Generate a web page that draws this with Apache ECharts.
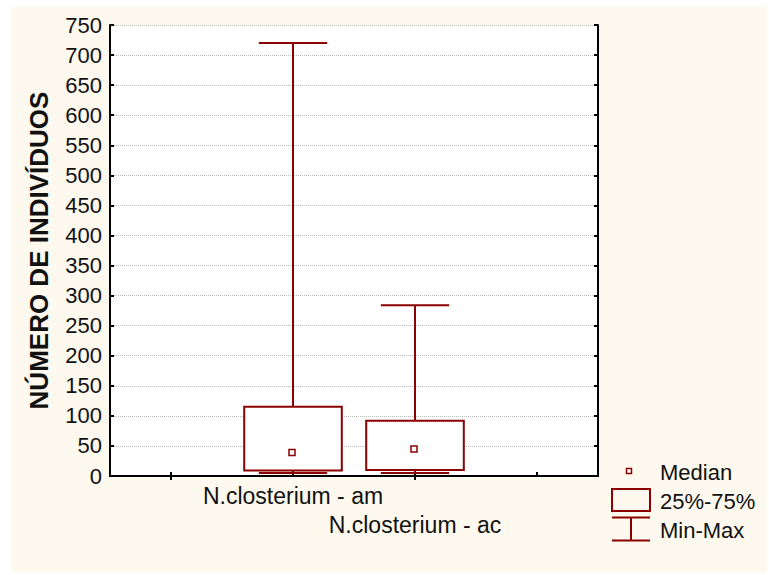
<!DOCTYPE html>
<html>
<head>
<meta charset="utf-8">
<script src="https://cdn.jsdelivr.net/npm/echarts@6/dist/echarts.min.js"></script>
<style>
html,body{margin:0;padding:0;background:#ffffff;}
#chart{width:769px;height:575px;}
</style>
</head>
<body>
<div id="chart"></div>
<script>
// ---- data ----
const categories = ['', 'N.closterium - am', 'N.closterium - ac', ''];
const boxCategoryIndex = [1, 2];
const minValues = [5, 5];
const q1Values = [9, 10];
const medianValues = [39, 45];
const q3Values = [115, 92];
const maxValues = [720, 284];
const yTicks = { min: 0, max: 750, interval: 50 };
const yAxisTitle = 'NÚMERO DE INDIVÍDUOS';
const legendLabels = ['Median', '25%-75%', 'Min-Max'];

const RED = '#8B0000';
const FONT = 'Arial, "Liberation Sans", sans-serif';

const boxData = boxCategoryIndex.map((c, i) =>
  [c, minValues[i], q1Values[i], medianValues[i], q3Values[i], maxValues[i]]);

function renderItem(params, api) {
  const xi = api.value(0);
  const band = api.size([1, 0])[0];
  const pMin = api.coord([xi, api.value(1)]);
  const pQ1 = api.coord([xi, api.value(2)]);
  const pMed = api.coord([xi, api.value(3)]);
  const pQ3 = api.coord([xi, api.value(4)]);
  const pMax = api.coord([xi, api.value(5)]);
  const cx = pMed[0];
  const bw = band * 0.8, cw = band * 0.56;
  const ls = { stroke: RED, lineWidth: 2, fill: null };
  return {
    type: 'group',
    children: [
      { type: 'line', shape: { x1: cx, y1: pQ3[1], x2: cx, y2: pMax[1] }, style: ls },
      { type: 'line', shape: { x1: cx - cw / 2, y1: pMax[1], x2: cx + cw / 2, y2: pMax[1] }, style: ls },
      { type: 'line', shape: { x1: cx, y1: pQ1[1], x2: cx, y2: pMin[1] }, style: ls },
      { type: 'line', shape: { x1: cx - cw / 2, y1: pMin[1], x2: cx + cw / 2, y2: pMin[1] }, style: ls },
      { type: 'rect', shape: { x: cx - bw / 2, y: pQ3[1], width: bw, height: pQ1[1] - pQ3[1] },
        style: { stroke: RED, lineWidth: 2, fill: '#ffffff' } },
      { type: 'rect', shape: { x: cx - 4, y: pMed[1] - 3, width: 6, height: 6 },
        style: { stroke: RED, lineWidth: 1.5, fill: '#ffffff' } }
    ]
  };
}

const chart = echarts.init(document.getElementById('chart'), null, { renderer: 'svg' });

const axisLineStyle = { show: true, lineStyle: { color: '#000', width: 2 } };

const option = {
  animation: false,
  backgroundColor: 'transparent',
  textStyle: { fontFamily: FONT },
  grid: { left: 110, right: 171, top: 25, bottom: 99, show: true, backgroundColor: '#ffffff', borderWidth: 0 },
  xAxis: [
    {
      type: 'category', data: categories, position: 'bottom', boundaryGap: true,
      axisLine: axisLineStyle,
      axisTick: { show: true, inside: true, alignWithLabel: true, length: 4, lineStyle: { color: '#000', width: 2 } },
      axisLabel: {
        interval: 0, color: '#111', fontSize: 23, fontFamily: FONT, margin: 6, lineHeight: 28.5,
        formatter: (v, idx) => idx === 2 ? '\n' + v : v
      },
      splitLine: { show: false }
    },
    {
      type: 'category', data: categories, position: 'top', boundaryGap: true,
      axisLine: axisLineStyle,
      axisTick: { show: true, inside: true, alignWithLabel: true, length: 4, lineStyle: { color: '#000', width: 2 } },
      axisLabel: { show: false },
      splitLine: { show: false }
    }
  ],
  yAxis: [
    {
      type: 'value', min: yTicks.min, max: yTicks.max, interval: yTicks.interval, position: 'left',
      name: yAxisTitle, nameLocation: 'middle', nameGap: 58, nameRotate: 90,
      nameTextStyle: { fontSize: 26, fontWeight: 'bold', color: '#111', fontFamily: FONT },
      axisLine: axisLineStyle,
      axisTick: { show: true, inside: true, length: 4, lineStyle: { color: '#000', width: 2 } },
      axisLabel: { color: '#111', fontSize: 22, fontFamily: FONT, margin: 8 },
      splitLine: { show: true, lineStyle: { color: '#bdbdbd', width: 1, type: 'dotted' } }
    },
    {
      type: 'value', min: yTicks.min, max: yTicks.max, interval: yTicks.interval, position: 'right',
      axisLine: axisLineStyle,
      axisTick: { show: true, inside: true, length: 4, lineStyle: { color: '#000', width: 2 } },
      axisLabel: { show: false },
      splitLine: { show: false }
    }
  ],
  series: [
    {
      type: 'custom', xAxisIndex: 0, yAxisIndex: 0,
      renderItem: renderItem,
      encode: { x: 0, y: [1, 2, 3, 4, 5] },
      data: boxData,
      z: 5
    }
  ],
  graphic: [
    { type: 'rect', z: -100, silent: true, shape: { x: 11, y: 7, width: 756, height: 565 }, style: { fill: '#FEF9EE' } },
    // legend
    { type: 'rect', z: 10, shape: { x: 626.5, y: 468.5, width: 5, height: 5 }, style: { stroke: RED, lineWidth: 1.5, fill: '#ffffff' } },
    { type: 'text', z: 10, style: { x: 660, y: 472, text: legendLabels[0], font: '22px ' + FONT, fill: '#111', verticalAlign: 'middle' } },
    { type: 'rect', z: 10, shape: { x: 612, y: 489, width: 38, height: 22 }, style: { stroke: RED, lineWidth: 2, fill: 'transparent' } },
    { type: 'text', z: 10, style: { x: 660, y: 501, text: legendLabels[1], font: '22px ' + FONT, fill: '#111', verticalAlign: 'middle' } },
    { type: 'line', z: 10, shape: { x1: 612, y1: 517.5, x2: 650, y2: 517.5 }, style: { stroke: RED, lineWidth: 2 } },
    { type: 'line', z: 10, shape: { x1: 631, y1: 517.5, x2: 631, y2: 540.5 }, style: { stroke: RED, lineWidth: 2 } },
    { type: 'line', z: 10, shape: { x1: 612, y1: 540.5, x2: 650, y2: 540.5 }, style: { stroke: RED, lineWidth: 2 } },
    { type: 'text', z: 10, style: { x: 660, y: 530, text: legendLabels[2], font: '22px ' + FONT, fill: '#111', verticalAlign: 'middle' } }
  ]
};

chart.setOption(option);
</script>
</body>
</html>
